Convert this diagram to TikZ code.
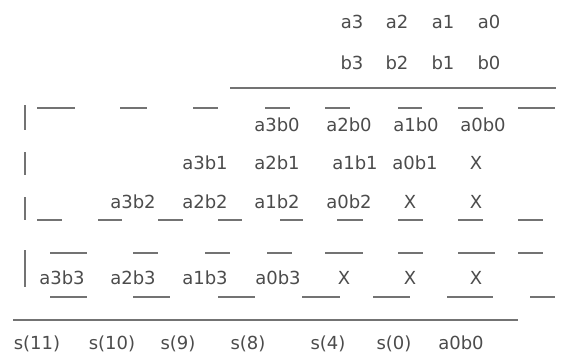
\documentclass[tikz,border=0pt]{standalone}
\usepackage{fontspec}
\setmainfont{DejaVu Sans}
\usepackage{tikz}

\tikzset{
  bit/.style={text=black!70, inner sep=0pt, text height=13pt, text depth=0pt,
    font=\fontsize{18}{21}\selectfont},
  rule/.style={draw=black!55, line width=1.7pt},
}

\begin{document}
\begin{tikzpicture}[x=1pt,y=-1pt]
\useasboundingbox (0,0) rectangle (563,356);

% operands
\foreach \i/\x in {3/352,2/397,1/443,0/489} {
  \node[bit] (a\i) at (\x,22) {a\i};
  \node[bit] (b\i) at (\x,63) {b\i};
}
\draw[rule] (230,88) -- (556,88);

% row b0
\node[bit] (p30) at (277,125) {a3b0};
\node[bit] (p20) at (349,125) {a2b0};
\node[bit] (p10) at (416,125) {a1b0};
\node[bit] (p00) at (483,125) {a0b0};

% row b1
\node[bit] (p31) at (205,163) {a3b1};
\node[bit] (p21) at (277,163) {a2b1};
\node[bit] (p11) at (355,163) {a1b1};
\node[bit] (p01) at (415,163) {a0b1};
\node[bit] (x1a) at (476,163) {X};

% row b2
\node[bit] (p32) at (133,202) {a3b2};
\node[bit] (p22) at (205,202) {a2b2};
\node[bit] (p12) at (277,202) {a1b2};
\node[bit] (p02) at (349,202) {a0b2};
\node[bit] (x2a) at (410,202) {X};
\node[bit] (x2b) at (476,202) {X};

% row b3
\node[bit] (p33) at (62,278) {a3b3};
\node[bit] (p23) at (133,278) {a2b3};
\node[bit] (p13) at (205,278) {a1b3};
\node[bit] (p03) at (278,278) {a0b3};
\node[bit] (x3a) at (344,278) {X};
\node[bit] (x3b) at (410,278) {X};
\node[bit] (x3c) at (476,278) {X};

% dashes
\foreach \l/\r in {37/75,120/147,193/218,265/290,325/350,398/422,458/483,518/555}
  \draw[rule] (\l,108) -- (\r,108);
\foreach \l/\r in {37/62,98/122,158/183,218/242,280/303,337/363,398/423,458/483,518/543}
  \draw[rule] (\l,220) -- (\r,220);
\foreach \l/\r in {50/87,133/158,205/230,267/292,325/363,398/423,458/495,518/543}
  \draw[rule] (\l,253) -- (\r,253);
\foreach \l/\r in {50/87,133/170,218/255,302/340,373/410,447/493,530/555}
  \draw[rule] (\l,297) -- (\r,297);

% bars
\foreach \t/\b in {105/130,152/175,197/220,250/287}
  \draw[rule] (25,\t) -- (25,\b);

% sum
\draw[rule] (13,320) -- (518,320);
\node[bit] (s11) at (37,343) {s(11)};
\node[bit] (s10) at (112,343) {s(10)};
\node[bit] (s9) at (178,343) {s(9)};
\node[bit] (s8) at (248,343) {s(8)};
\node[bit] (s4) at (328,343) {s(4)};
\node[bit] (s0) at (394,343) {s(0)};
\node[bit] (r00) at (461,343) {a0b0};
\end{tikzpicture}
\end{document}
